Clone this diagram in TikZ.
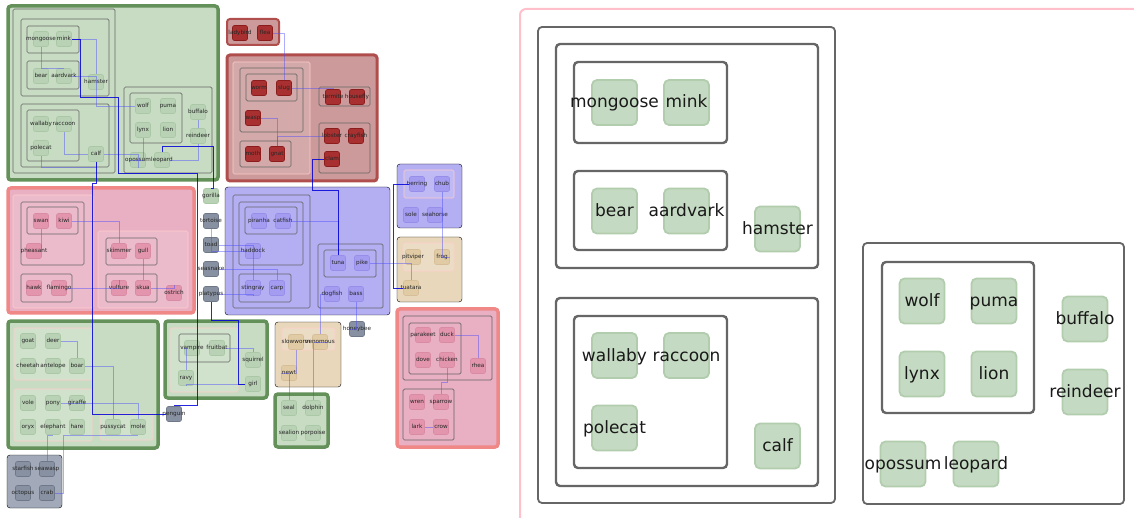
\documentclass[tikz,border=0pt]{standalone}
\usepackage{fontspec}
\setmainfont{DejaVu Sans}

\definecolor{gfill}{HTML}{C8DCC4}
\definecolor{gline}{HTML}{64905A}
\definecolor{gnode}{HTML}{B9D1B5}
\definecolor{gnodeb}{HTML}{ABC8A6}
\definecolor{rfill}{HTML}{CC9A9A}
\definecolor{rline}{HTML}{B04E4E}
\definecolor{rnode}{HTML}{A83030}
\definecolor{rnodeb}{HTML}{8A1C1C}
\definecolor{pfill}{HTML}{E8B0C2}
\definecolor{pline}{HTML}{F08888}
\definecolor{pnode}{HTML}{E295AD}
\definecolor{pnodeb}{HTML}{D88BA3}
\definecolor{bfill}{HTML}{B4AEF3}
\definecolor{bnode}{HTML}{A39CF0}
\definecolor{bnodeb}{HTML}{968EE8}
\definecolor{tfill}{HTML}{E8D7BB}
\definecolor{tnode}{HTML}{E0CBA5}
\definecolor{tnodeb}{HTML}{D6BF98}
\definecolor{sfill}{HTML}{A2AABA}
\definecolor{snode}{HTML}{8891A1}
\definecolor{snodeb}{HTML}{6F7888}
\definecolor{frame}{HTML}{FFC0CB}
\definecolor{wire}{HTML}{4A4AFF}
\definecolor{zfill}{HTML}{C5DAC2}
\definecolor{zline}{HTML}{B2CDAE}

\begin{document}
\begin{tikzpicture}[x=1pt,y=-1pt,
  an/.style={rectangle,rounded corners=2pt,minimum size=15pt,inner sep=0pt,
    line width=0.6pt,text=black!85,text height=4pt,text depth=0.3pt,
    font=\fontsize{5.7}{6}\selectfont},
  gn/.style={an,fill=gnode,draw=gnodeb},
  rn/.style={an,fill=rnode,draw=rnodeb},
  pn/.style={an,fill=pnode,draw=pnodeb},
  bn/.style={an,fill=bnode,draw=bnodeb},
  tn/.style={an,fill=tnode,draw=tnodeb},
  sn/.style={an,fill=snode,draw=snodeb},
  gcl/.style={fill=gfill,draw=gline,line width=3.5pt,rounded corners=3pt},
  rcl/.style={fill=rfill,draw=rline,line width=3pt,rounded corners=3pt},
  pcl/.style={fill=pfill,draw=pline,line width=3.5pt,rounded corners=3pt},
  bcl/.style={fill=bfill,rounded corners=3pt},
  tcl/.style={fill=tfill,rounded corners=3pt},
  scl/.style={fill=sfill,rounded corners=3pt},
  grp/.style={draw=black!60,line width=0.7pt,rounded corners=1.5pt},
  lgrp/.style={draw=pink!80,line width=0.6pt,fill=white,fill opacity=0.15,rounded corners=1.5pt},
  wr/.style={draw=wire,line width=0.6pt,opacity=0.45},
  mwr/.style={draw=blue!85!black,line width=0.9pt,opacity=0.85},
  big/.style={rectangle,rounded corners=5pt,minimum size=45pt,inner sep=0pt,
    fill=zfill,draw=zline,line width=1.8pt,text=black!90,text height=12pt,
    text depth=1pt,font=\fontsize{17}{20}\selectfont},
  zbox/.style={draw=black!60,line width=1.8pt,rounded corners=4pt},
  zgrp/.style={draw=black!60,line width=2.4pt,rounded corners=4pt}]
\useasboundingbox (0,0) rectangle (1134,518);
\clip (0,0) rectangle (1134,518);

% Clusters, overview
\draw[gcl] (8,6) rectangle (218,180);
\draw[grp] (13,9) rectangle (115,173);
\draw[grp] (21,19) rectangle (109,96);
\draw[grp] (27,26) rectangle (79,53);
\draw[grp] (27,61) rectangle (79,89);
\draw[grp] (21,104) rectangle (109,167);
\draw[grp] (27,110) rectangle (79,161);
\draw[grp] (124,87) rectangle (212,173);
\draw[grp] (130,93) rectangle (182,143);

\draw[rcl,line width=2pt] (227,19) rectangle (279,45);
\draw[rcl] (227,55) rectangle (377,181);
\draw[lgrp] (233,62) rectangle (310,174);
\draw[grp] (240,68) rectangle (303,132);
\draw[grp] (246,74) rectangle (297,101);
\draw[grp] (240,141) rectangle (291,167);
\draw[grp] (319,87) rectangle (370,106);
\draw[grp] (319,123) rectangle (370,173);

\draw[pcl] (8,188) rectangle (194,313);
\draw[lgrp] (13,195) rectangle (93,308);
\draw[lgrp] (98,231) rectangle (188,308);
\draw[grp] (21,202) rectangle (84,265);
\draw[grp] (27,207) rectangle (78,234);
\draw[grp] (21,274) rectangle (72,302);
\draw[grp] (106,238) rectangle (157,265);
\draw[grp] (106,274) rectangle (157,302);

\draw[bcl] (225,187) rectangle (390,315);
\draw[grp] (233,195) rectangle (310,308);
\draw[grp] (239,202) rectangle (303,265);
\draw[grp] (245,207) rectangle (297,234);
\draw[grp] (239,274) rectangle (291,302);
\draw[grp] (318,244) rectangle (383,308);
\draw[grp] (324,250) rectangle (376,277);

\draw[bcl] (397,164) rectangle (462,228);
\draw[lgrp] (404,170) rectangle (454,198);
\draw[tcl] (397,237) rectangle (462,302);
\draw[lgrp] (403,243) rectangle (454,271);

\draw[gcl] (8,321) rectangle (158,448);
\draw[lgrp] (14,328) rectangle (92,380);
\draw[lgrp] (14,389) rectangle (92,441);
\draw[lgrp] (100,414) rectangle (153,440);
\draw[scl] (7,455) rectangle (62,508);

\draw[gcl] (165,321) rectangle (267,398);
\draw[lgrp] (170,328) rectangle (238,392);
\draw[grp] (179,334) rectangle (230,362);

\draw[tcl] (275,322) rectangle (341,387);
\draw[lgrp] (282,328) rectangle (335,350);
\draw[gcl] (275,394) rectangle (328,447);

\draw[pcl] (397,309) rectangle (498,447);
\draw[grp] (403,316) rectangle (492,380);
\draw[grp] (409,323) rectangle (461,374);
\draw[grp] (403,389) rectangle (454,440);

% Nodes, overview
\foreach \n/\x/\y in {mongoose/41/39, mink/64/39, bear/41/76, aardvark/64/76,
    hamster/96/82, wallaby/41/124, raccoon/64/124, polecat/41/148, calf/96/154,
    wolf/143/106, puma/168/106, lynx/143/130, lion/168/130, buffalo/198/112,
    reindeer/198/136, opossum/138/160, leopard/162/160, gorilla/211/196,
    goat/28/341, deer/53/341, cheetah/28/366, antelope/53/366, boar/77/366,
    vole/28/403, pony/53/403, giraffe/77/403, oryx/28/427, elephant/53/427,
    hare/77/427, pussycat/113/427, mole/138/427, vampire/192/348,
    fruitbat/217/348, ravy/186/378, squirrel/253/360, girl/253/384,
    seal/289/408, dolphin/313/408, sealion/289/433, porpoise/313/433}
  \node[gn] (\n) at (\x,\y) {\makebox[0pt]{\n}};
\foreach \n/\x/\y in {ladybird/240/33, flea/265/33, worm/259/88, slug/284/88,
    wasp/253/118, moth/253/154, gnat/277/154, termite/333/97, housefly/357/97,
    lobster/332/136, crayfish/356/136, clam/332/159}
  \node[rn] (\n) at (\x,\y) {\makebox[0pt]{\n}};
\foreach \n/\x/\y in {swan/41/221, kiwi/64/221, pheasant/34/251, hawk/34/288,
    flamingo/59/288, skimmer/119/251, gull/143/251, vulture/119/288, skua/143/288,
    ostrich/174/293, parakeet/423/335, duck/447/335, dove/423/360,
    chicken/447/360, rhea/478/366, wren/417/402, sparrow/441/402,
    lark/417/427, crow/441/427}
  \node[pn] (\n) at (\x,\y) {\makebox[0pt]{\n}};
\foreach \n/\x/\y in {piranha/259/221, catfish/283/221, haddock/253/251,
    stingray/253/288, carp/277/288, tuna/338/263, pike/362/263, dogfish/332/294,
    bass/356/294, herring/417/184, chub/442/184, sole/411/215, seahorse/435/215}
  \node[bn] (\n) at (\x,\y) {\makebox[0pt]{\n}};
\foreach \n/\x/\y in {pitviper/413/257, frog/442/257, tuatara/411/288,
    slowworm/296/342, venomous/320/342, newt/289/373}
  \node[tn] (\n) at (\x,\y) {\makebox[0pt]{\n}};
\foreach \n/\x/\y in {tortoise/211/221, toad/211/245, seasnake/211/269,
    platypus/211/294, penguin/174/414, honeybee/357/329, starfish/23/469,
    seawasp/47/469, octopus/23/493, crab/47/493}
  \node[sn] (\n) at (\x,\y) {\makebox[0pt]{\n}};

% Edges, overview
\draw[wr] (mink.east) -| (hamster.north);
\draw[wr] (mongoose.south) |- (aardvark.north);
\draw[wr] (aardvark.east) -| (hamster.south);
\draw[wr] (hamster.south) |- (wolf.west);
\draw[wr] (raccoon.south) |- (calf.west);
\draw[wr] (polecat.south) -- ++(0,12) -| (calf.south);
\draw[wr] (buffalo.south) -- (reindeer.north);
\draw[wr] (reindeer.south) |- (leopard.east);
\draw[wr] (lynx.south) |- (opossum.west);
\draw[wr] (calf.east) -| (opossum.south);
\draw[wr] (flea.east) -| (slug.north);
\draw[wr] (slug.east) -| (termite.north);
\draw[wr] (wasp.east) -| (gnat.north);
\draw[wr] (lobster.west) -| (gnat.north);
\draw[wr] (kiwi.east) -| (skimmer.north);
\draw[wr] (swan.south) |- (pheasant.east);
\draw[wr] (flamingo.east) -| (vulture.north);
\draw[wr] (skua.east) -| (ostrich.north);
\draw[wr] (gull.south) -- (skua.north);
\draw[wr] (catfish.east) -| (tuna.north);
\draw[wr] (haddock.west) -| (tortoise.south);
\draw[wr] (toad.east) -| (stingray.north);
\draw[wr] (seasnake.east) -| (carp.north);
\draw[wr] (platypus.east) -| (stingray.south);
\draw[wr] (pike.east) -| (tuatara.north);
\draw[wr] (bass.south) |- (honeybee.west);
\draw[wr] (dogfish.west) -| (venomous.north);
\draw[wr] (slowworm.south) |- (newt.east);
\draw[wr] (seal.north) |- (newt.west);
\draw[wr] (chub.south) |- (frog.east);
\draw[wr] (duck.east) -| (rhea.north);
\draw[wr] (sparrow.north) -- ++(0,-12) -| (chicken.south);
\draw[wr] (lark) -- (crow);
\draw[wr] (deer.east) -| (boar.north);
\draw[wr] (boar.east) -| (pussycat.north);
\draw[wr] (pony.east) -| (mole.north);
\draw[wr] (seawasp.north) |- (elephant.south);
\draw[wr] (crab.east) -- ++(8,0) |- (mole.south);
\draw[wr] (vampire.west) -| (ravy.north);
\draw[wr] (fruitbat.east) -| (squirrel.north);
\draw[wr] (girl.west) -| (ravy.south);
\draw[wr] (dolphin.north) |- (venomous.east);

\draw[mwr] (mink.east) -| (80,97) -| (118,173) -| (197,405) -| (penguin.north);
\draw[mwr] (calf.south) |- (92,183) |- (penguin.west);
\draw[mwr] (leopard.north) |- (213,146) |- (gorilla.north);
\draw[mwr] (herring.west) -| (393,288) -- (tuatara.west);
\draw[mwr] (clam.west) -| (312,190) -| (tuna.north);
\draw[mwr] (girl.west) -| (238,320) -| (platypus.south);

% Detail panel
\draw[frame,line width=2pt,rounded corners=6pt] (520,9) rectangle (1160,540);
\draw[zbox] (538,27) rectangle (835,503);
\draw[zgrp] (556,44) rectangle (818,268);
\draw[zgrp] (574,62) rectangle (727,143);
\draw[zgrp] (574,171) rectangle (727,250);
\draw[zgrp] (556,298) rectangle (818,486);
\draw[zgrp] (574,316) rectangle (727,468);
\draw[zbox] (863,243) rectangle (1124,504);
\draw[zgrp] (882,262) rectangle (1034,413);

\foreach \n/\x/\y in {mongoose/614.5/102.5, mink/686.5/102.5, bear/614.5/211,
    aardvark/686.5/211, hamster/777.5/229, wallaby/614.5/355.5,
    raccoon/686.5/355.5, polecat/614.5/428, calf/777.5/446, wolf/922/301,
    puma/994/301, lynx/922/374, lion/994/374, buffalo/1085/319,
    reindeer/1085/392, opossum/903/464, leopard/976/464}
  \node[big] (z\n) at (\x,\y) {\makebox[0pt]{\n}};
\end{tikzpicture}
\end{document}
